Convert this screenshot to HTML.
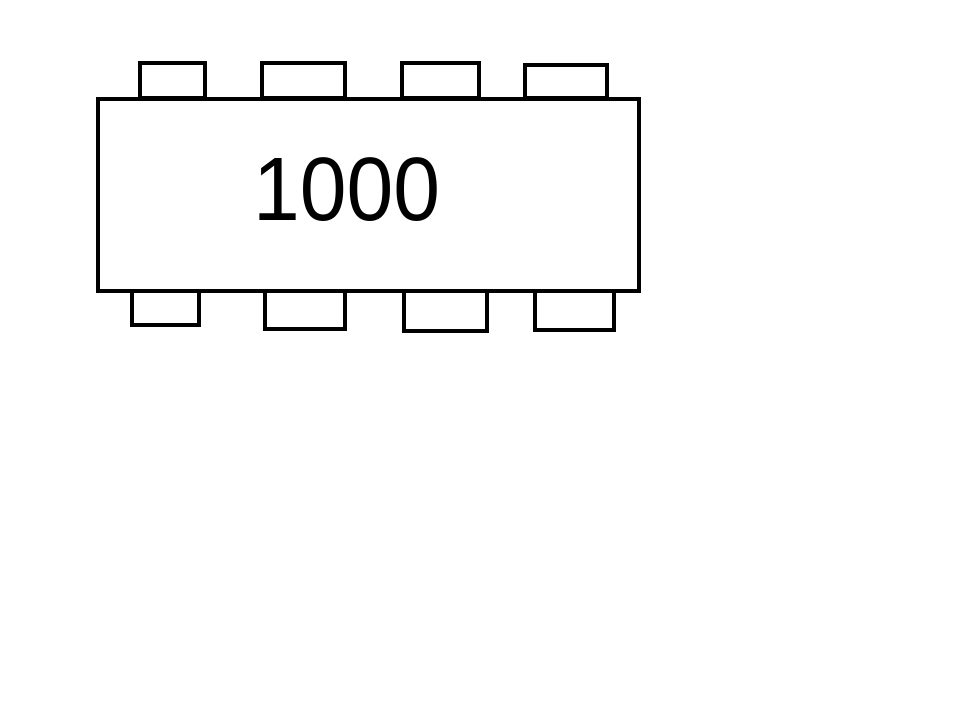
<!DOCTYPE html>
<html><head><meta charset="utf-8"><style>
html,body{margin:0;padding:0;background:#fff;width:960px;height:720px;overflow:hidden}
</style></head><body>
<svg width="960" height="720" viewBox="0 0 960 720" xmlns="http://www.w3.org/2000/svg">
<g fill="#fff" stroke="#000" stroke-width="4">
<rect x="140" y="63" width="65" height="35"/>
<rect x="262" y="63" width="83" height="35"/>
<rect x="402" y="63" width="77" height="35"/>
<rect x="525" y="65" width="82" height="33"/>
<rect x="132" y="290" width="67" height="35"/>
<rect x="265" y="290" width="80" height="39"/>
<rect x="404" y="290" width="83" height="41"/>
<rect x="535" y="290" width="79" height="40"/>
<rect x="98" y="99" width="541" height="192"/>
</g>
<text x="253" y="220" font-family="Liberation Sans, sans-serif" font-size="90" textLength="187" lengthAdjust="spacingAndGlyphs" fill="#000">1000</text>
</svg>
</body></html>
